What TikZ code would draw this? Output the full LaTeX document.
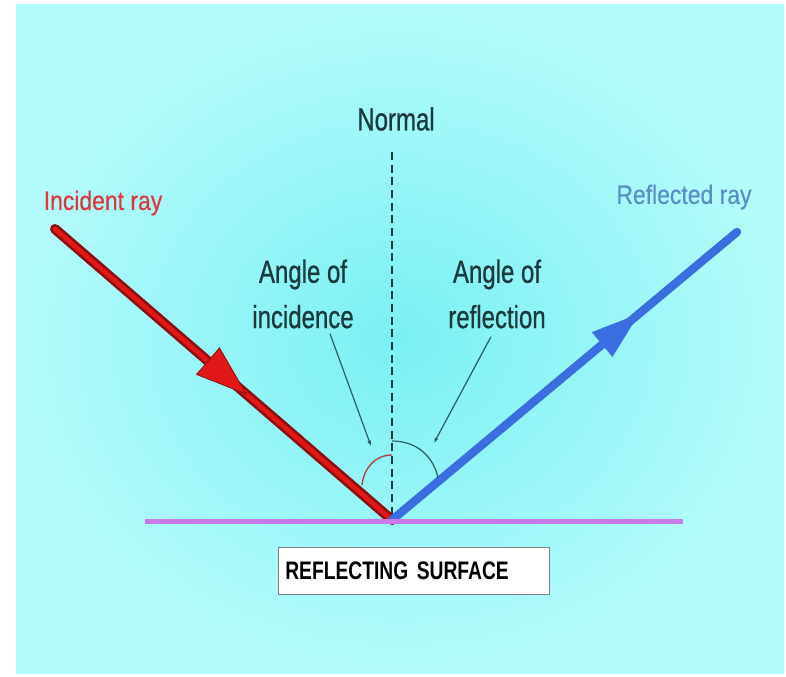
\documentclass[tikz,border=0pt]{standalone}
\usepackage{fontspec}
\setmainfont{Liberation Sans}
\newfontfamily\handfont[FakeStretch=0.75,FakeBold=0.7]{Liberation Sans}
\newfontfamily\labfont[FakeStretch=0.86,FakeBold=0.4]{Liberation Sans}
\newfontfamily\boxfont[FakeStretch=0.76]{Liberation Sans}
\usetikzlibrary{arrows.meta,decorations.markings,calc}
\definecolor{skyin}{RGB}{122,240,244}
\definecolor{skyout}{RGB}{180,251,251}
\definecolor{ink}{RGB}{26,58,60}
\definecolor{rayred}{RGB}{226,24,24}
\definecolor{raydark}{RGB}{140,14,14}
\definecolor{rayblue}{RGB}{58,110,224}
\definecolor{surface}{RGB}{200,122,232}
\definecolor{incred}{RGB}{214,58,62}
\definecolor{reflblue}{RGB}{90,140,200}
\definecolor{arcred}{RGB}{176,64,64}
\definecolor{pointer}{RGB}{46,92,94}
\definecolor{boxgray}{RGB}{130,130,130}
\tikzset{
  handtext/.style={ink, font=\handfont\fontsize{24}{34}\selectfont, align=center, inner sep=0pt},
  raylabel/.style={font=\labfont\fontsize{20}{24}\selectfont, inner sep=0pt},
  pointer/.style={draw=pointer, line width=0.9pt, -{Latex[length=4pt,width=3pt]}},
  surfbox/.style={draw=boxgray, fill=white, line width=0.6pt, text width=193pt, inner xsep=5pt,
    minimum height=35pt, align=left, font=\boxfont\bfseries\fontsize{19}{22}\selectfont}
}
\begin{document}
\begin{tikzpicture}[x=0.75pt, y=-0.75pt]
  \useasboundingbox (0,0) rectangle (786,677);
  \shade[inner color=skyin, outer color=skyout] (16,5) rectangle (784,673);
  \coordinate (O) at (392,520);
  \coordinate (src) at (55,229);
  \coordinate (dst) at (737,232);
  \coordinate (ntop) at (392,152);
  \coordinate (sl) at (145,521);
  \coordinate (sr) at (683,521);
  \draw[ink, line width=1.1pt, dash pattern=on 6pt off 3.5pt] (ntop) -- (O);
  \draw[raydark, line width=7.5pt, line cap=round] (src) -- (O);
  \draw[rayred, line width=3.5pt, line cap=round] (src) -- (O);
  \draw[rayblue, line width=6.3pt, line cap=round] (O) -- (dst);
  \path[decorate, decoration={markings, mark=at position 0.57 with
    {\arrow{Triangle[length=39pt, width=27pt, color=raydark, fill=rayred, line width=0.6pt]}}}] (src) -- (O);
  \path[decorate, decoration={markings, mark=at position 0.716 with
    {\arrow{Triangle[length=36pt, width=24pt, color=rayblue, fill=rayblue]}}}] (O) -- (dst);
  \draw[surface, line width=3.75pt] (sl) -- (sr);
  \draw[arcred, line width=1pt] (392,455) .. controls (375,455) and (364,468) .. (362,485);
  \draw[pointer, -] (392,441) .. controls (418,441) and (434,458) .. (438,478);
  \node[handtext] (normal) at (396,119) {Normal};
  \node[raylabel, incred] (inclab) at (103,203) {Incident ray};
  \node[raylabel, reflblue] (refllab) at (684,197) {Reflected ray};
  \node[handtext] (aoi) at (303,294) {Angle of\\incidence};
  \node[handtext] (aor) at (497,294) {Angle of\\reflection};
  \coordinate (aoitip) at (371,446);
  \coordinate (aortip) at (434,443);
  \draw[pointer] ($(aoi.south)+(27,5)$) -- (aoitip);
  \draw[pointer] ($(aor.south)+(-6,8)$) -- (aortip);
  \node[surfbox] (surf) at (414,571) {REFLECTING SURFACE};
\end{tikzpicture}
\end{document}
